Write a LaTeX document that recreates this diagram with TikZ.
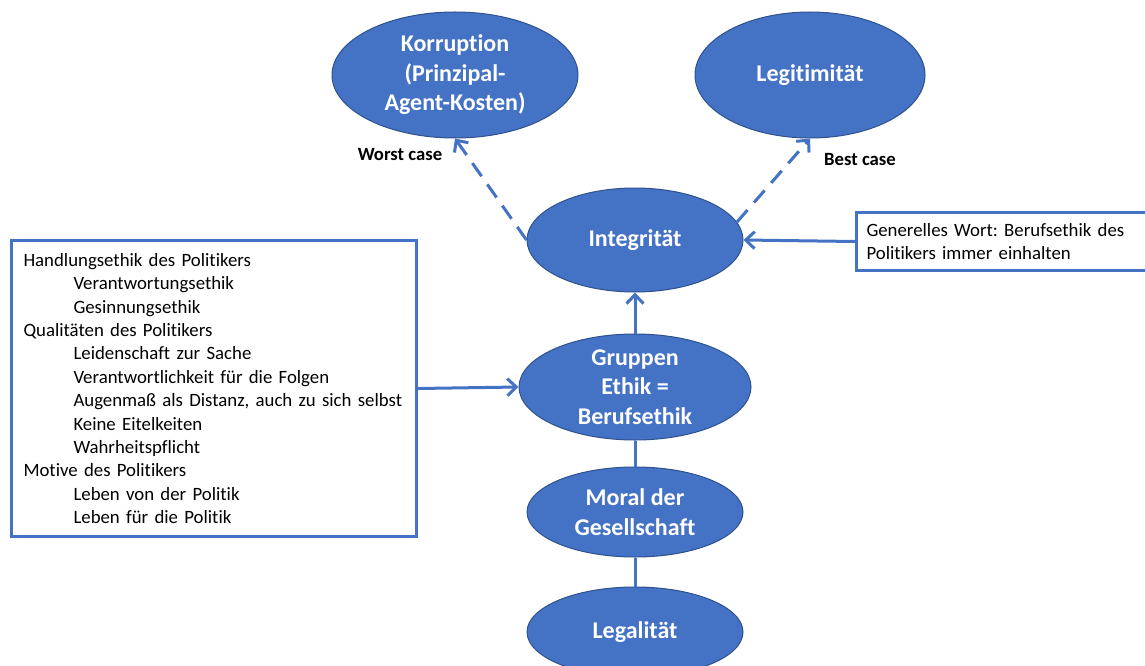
\documentclass[tikz,border=0pt]{standalone}
\usepackage{fontspec}
\setmainfont{Carlito}[Ligatures={NoCommon}]
\usetikzlibrary{shapes.geometric,arrows.meta}
\definecolor{officeblue}{HTML}{4472C4}
\definecolor{officeedge}{HTML}{2F528F}
\begin{document}
\frenchspacing
\begin{tikzpicture}[x=1pt,y=-1pt,
  bubble/.style={ellipse,draw=officeedge,line width=1pt,fill=officeblue,text=white,
    inner sep=0pt,align=center,font=\bfseries\fontsize{24}{29.5}\selectfont},
  infobox/.style={draw=officeblue,line width=3pt,fill=white,align=left,
    font=\fontsize{18.8}{23.4}\selectfont,inner ysep=0pt},
  caselabel/.style={font=\bfseries\fontsize{18.7}{22}\selectfont},
  link/.style={draw=officeblue,line width=3pt},
  solidarrow/.style={link,-{Straight Barb[length=9pt,width=17pt,line width=3pt]}},
  dasharrow/.style={solidarrow,dash pattern=on 16pt off 10pt},
]
\useasboundingbox[fill=white] (0,0) rectangle (1145,666);

% ellipses
\node[bubble,minimum width=246pt,minimum height=126pt] (korr) at (455,75)
  {Korruption\\(Prinzipal-\\Agent-Kosten)};
\node[bubble,minimum width=230pt,minimum height=126pt] (legit) at (810,75) {Legitimität};
\node[bubble,minimum width=216pt,minimum height=104pt] (integ) at (635,240) {Integrität};
\node[bubble,minimum width=232pt,minimum height=106pt] (grp) at (635,387)
  {Gruppen\\Ethik =\\Berufsethik};
\node[bubble,minimum width=216pt,minimum height=90pt] (moral) at (635,512)
  {Moral der\\Gesellschaft};
\node[bubble,minimum width=216pt,minimum height=90pt] (legal) at (635,632) {Legalität};

% text boxes
\node[infobox,anchor=north west,minimum width=405pt,minimum height=296pt,
  text width=385pt,inner xsep=10pt] (lbox) at (10,239)
  {\hspace*{2pt}Handlungsethik des Politikers\\
   \hspace*{52pt}Verantwortungsethik\\
   \hspace*{52pt}Gesinnungsethik\\
   \hspace*{2pt}Qualitäten des Politikers\\
   \hspace*{52pt}Leidenschaft zur Sache\\
   \hspace*{52pt}Verantwortlichkeit für die Folgen\\
   \hspace*{52pt}Augenmaß als Distanz, auch zu sich selbst\\
   \hspace*{52pt}Keine Eitelkeiten\\
   \hspace*{52pt}Wahrheitspflicht\\
   \hspace*{2pt}Motive des Politikers\\
   \hspace*{52pt}Leben von der Politik\\
   \hspace*{52pt}Leben für die Politik};
\node[infobox,anchor=north west,minimum height=58pt,text width=290pt,
  inner xsep=10pt] (rbox) at (855,211)
  {Generelles Wort: Berufsethik des\\Politikers immer einhalten};

% case labels
\node[caselabel] (worst) at (400,155) {Worst case};
\node[caselabel] (best) at (860,160) {Best case};

% connectors
\draw[dasharrow] (integ.west) -- (korr.south);
\draw[dasharrow] (integ.10) -- (legit.south);
\draw[solidarrow] (rbox.west) -- (integ.east);
\draw[solidarrow] (grp.north) -- (integ.south);
\draw[solidarrow] (lbox.east) -- (grp.west);
\draw[link] (grp.south) -- (moral.north);
\draw[link] (moral.south) -- (legal.north);
\end{tikzpicture}
\end{document}
